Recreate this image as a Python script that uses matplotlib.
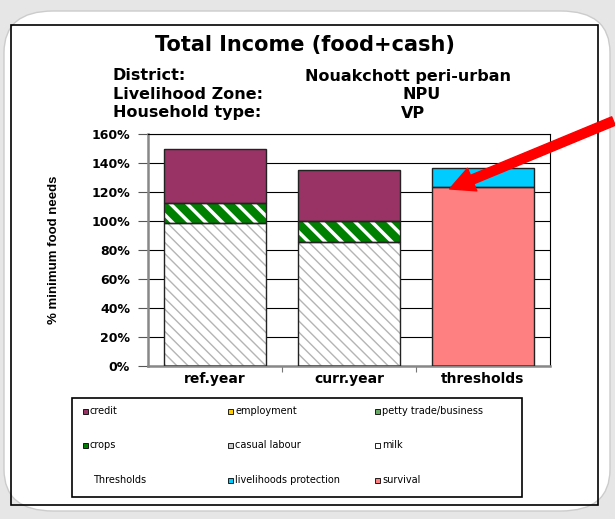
import matplotlib.pyplot as plt
from matplotlib.patches import Rectangle, FancyBboxPatch, FancyArrowPatch

# dados
categorias = ["ref.year", "curr.year", "thresholds"]
casual_labour = [98.4, 85.7, 0]
petty_trade = [14.2, 14.5, 0]
credit = [36.8, 35.0, 0]
survival = [0, 0, 123.7]
livelihoods_protection = [0, 0, 12.6]
yticks = [0, 20, 40, 60, 80, 100, 120, 140, 160]

roxo = "#993366"
verde = "#008000"
rosa = "#FF8080"
ciano = "#00CCFF"

plt.rcParams["font.family"] = ["DejaVu Sans"]
plt.rcParams["font.weight"] = "bold"

fig = plt.figure(figsize=(6.15, 5.19), dpi=100)
fig.patch.set_facecolor("#e6e6e6")

# moldura branca arredondada e caixa preta do gráfico
W, H = 615, 519
fundo = FancyBboxPatch((4 / W, 8 / H), 606 / W, 500 / H,
                       boxstyle="round,pad=0,rounding_size=0.08",
                       transform=fig.transFigure, facecolor="white",
                       edgecolor="#cccccc", linewidth=1, zorder=-5)
fig.patches.append(fundo)
caixa = Rectangle((11 / W, 14 / H), 587 / W, 480 / H, transform=fig.transFigure,
                  facecolor="none", edgecolor="black", linewidth=1.2, zorder=-4)
fig.patches.append(caixa)

ax = fig.add_axes([148 / W, 1 - 366 / H, 402 / W, 232 / H])
ax.set_facecolor("white")
x = range(len(categorias))
larg = 0.76

# barras empilhadas
ax.bar(x, casual_labour, larg, color="white", edgecolor="#b4b4b4",
       hatch="\\\\\\", linewidth=0, zorder=2)
base = casual_labour
plt.rcParams["hatch.linewidth"] = 2.5
ax.bar(x, petty_trade, larg, bottom=base, color=verde, edgecolor="white",
       hatch="\\\\", linewidth=0, zorder=2)
base2 = [a + b for a, b in zip(base, petty_trade)]
ax.bar(x, credit, larg, bottom=base2, color=roxo, linewidth=0, zorder=2)
ax.bar(x, survival, larg, color=rosa, linewidth=0, zorder=2)
ax.bar(x, livelihoods_protection, larg, bottom=survival, color=ciano,
       linewidth=0, zorder=2)

# contornos pretos
for serie, fundo_s in [(casual_labour, [0, 0, 0]), (petty_trade, base),
                       (credit, base2), (survival, [0, 0, 0]),
                       (livelihoods_protection, survival)]:
    ax.bar(x, serie, larg, bottom=fundo_s, fill=False, edgecolor="#222222",
           linewidth=1, zorder=3)

ax.set_ylim(0, 160)
ax.set_xlim(-0.5, 2.5)
ax.set_yticks(yticks)
ax.set_yticklabels([f"{v}%" for v in yticks], fontsize=9, fontweight="bold")
ax.yaxis.grid(True, color="black", linewidth=0.8, zorder=0)
ax.set_axisbelow(True)
ax.set_xticks([0.5, 1.5], minor=False)
ax.set_xticklabels(["", ""])
ax.set_xticks(list(x), minor=True)
ax.set_xticklabels(categorias, minor=True, fontsize=10, fontweight="bold")
ax.tick_params(axis="x", which="minor", length=0, pad=4)
ax.tick_params(axis="x", which="major", length=4, color="#777777")
ax.tick_params(axis="y", length=7, color="#555555", pad=6)
for lado in ["top", "right"]:
    ax.spines[lado].set_color("black")
for lado in ["left", "bottom"]:
    ax.spines[lado].set_color("#888888")
    ax.spines[lado].set_linewidth(1.8)

ax.set_ylabel("% minimum food needs", fontsize=9.5, fontweight="bold",
              family=["Liberation Sans Narrow", "Liberation Sans"])
ax.yaxis.set_label_coords(-0.22, 0.5)

# títulos
fig.text(305 / W, 1 - 45 / H, "Total Income (food+cash)", fontsize=15,
         fontweight="bold", ha="center", va="center")
linhas = [("District:", "Nouakchott peri-urban", 305, "left"),
          ("Livelihood Zone:", "NPU", 422, "center"),
          ("Household type:", "VP", 413, "center")]
for i, (rot, val, xv, al) in enumerate(linhas):
    yy = 1 - (76 + i * 18.5) / H
    fig.text(113 / W, yy, rot, fontsize=11.5, fontweight="bold", va="center")
    fig.text(xv / W, yy, val, fontsize=11.5, fontweight="bold", va="center", ha=al)

# legenda montada à mão (3 x 3)
fig.patches.append(Rectangle((72 / W, 1 - 497 / H), 450 / W, 99 / H,
                             transform=fig.transFigure, facecolor="white",
                             edgecolor="black", linewidth=1.2, zorder=-3))
itens = [[(roxo, "credit"), ("#FFCC00", "employment"), ("#66aa66", "petty trade/business")],
         [(verde, "crops"), ("#cccccc", "casual labour"), ("white", "milk")],
         [(None, "Thresholds"), (ciano, "livelihoods protection"), (rosa, "survival")]]
col_x = [83, 228, 375]
lin_y = [411.5, 445.5, 480]
for r, linha in enumerate(itens):
    for c, (cor, nome) in enumerate(linha):
        xm, ym = col_x[c], lin_y[r]
        if cor is None:
            fig.text((xm + 10) / W, 1 - ym / H, nome, fontsize=7,
                     fontweight="normal", va="center")
            continue
        fig.patches.append(Rectangle((xm / W, 1 - (ym + 2.5) / H), 5 / W, 5 / H,
                                     transform=fig.transFigure, facecolor=cor,
                                     edgecolor="black", linewidth=0.6))
        fig.text((xm + 7) / W, 1 - ym / H, nome, fontsize=7,
                 fontweight="normal", va="center")

# seta vermelha
fig.patches.append(FancyArrowPatch(
    (616 / W, 1 - 120 / H), (447 / W, 1 - 190 / H), transform=fig.transFigure,
    arrowstyle="simple,head_length=1.6,head_width=1.6,tail_width=0.6",
    mutation_scale=11, color="#ff0000", zorder=5))

plt.savefig("out.png", dpi=100, facecolor=fig.get_facecolor())
